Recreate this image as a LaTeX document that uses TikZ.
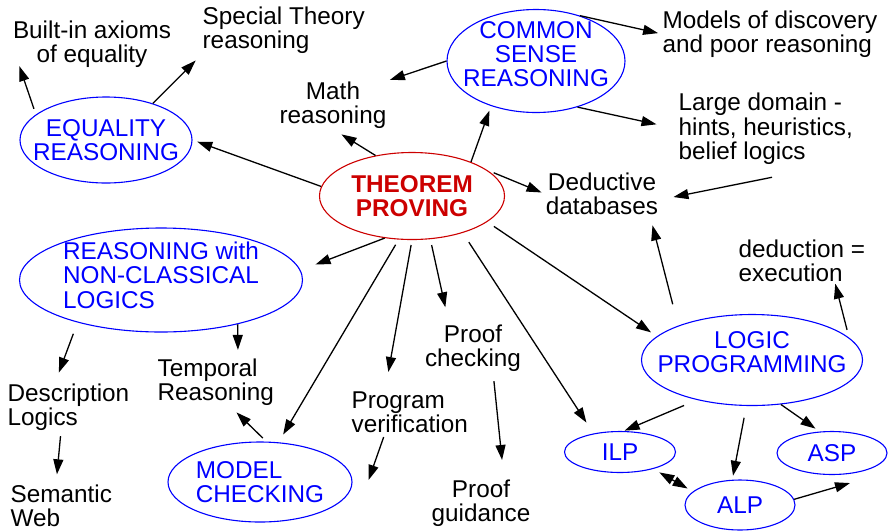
\documentclass[tikz,border=0pt]{standalone}
\usepackage{fontspec}
\setmainfont{Liberation Sans}
\usetikzlibrary{shapes.geometric,arrows.meta}
\definecolor{tpred}{RGB}{204,0,0}

\begin{document}
\begin{tikzpicture}[x=1pt, y=-1pt, line width=1.3pt,
    >={Triangle[length=15pt,width=10pt]},
    font=\fontsize{24.3}{24.3}\selectfont,
    blob/.style={draw=blue, text=blue, ellipse, line width=1.1pt, inner xsep=-20pt, inner ysep=-10pt},
    txt/.style={inner sep=0pt, align=left, anchor=west},
    ctxt/.style={inner sep=0pt, align=center}]
      \useasboundingbox (0,0) rectangle (891,531);

      \node (Theorem) [blob, draw=tpred, text=tpred, font=\fontsize{24.3}{24.3}\selectfont\bfseries, minimum width=185pt, minimum height=87pt, align=center] at (412,196) {THEOREM\\PROVING};
      \node (Equality) [blob, minimum width=172pt, minimum height=86pt, align=center] at (106,140) {EQUALITY\\REASONING};
      \node (CommonSense) [blob, minimum width=178pt, minimum height=103pt, align=center, text depth=14pt] at (536,61) {COMMON\\SENSE\\REASONING};
      \node (NonClassical) [blob, minimum width=283pt, minimum height=104pt, align=left, text depth=10pt] at (161,280) {REASONING with\\NON-CLASSICAL\\LOGICS};
      \node (LogicProg) [blob, minimum width=221pt, minimum height=91pt, align=center, text depth=16pt] at (752,360) {LOGIC\\PROGRAMMING};
      \node (ModelCheck) [blob, minimum width=184pt, minimum height=80pt, align=left] at (260,482) {MODEL\\CHECKING};
      \node (ILP) [blob, minimum width=111pt, minimum height=41pt] at (620,452) {ILP};
      \node (ASP) [blob, minimum width=110pt, minimum height=43pt] at (832,453) {ASP};
      \node (ALP) [blob, minimum width=110pt, minimum height=50pt] at (740,505) {ALP};

      \node (BuiltIn) [ctxt] at (92,44) {Built-in axioms\\of equality};
      \node (SpecialTheory) [txt] at (202,30) {Special Theory\\reasoning};
      \node (MathReas) [ctxt] at (333,105) {Math\\reasoning};
      \node (Models) [txt] at (662,34) {Models of discovery\\and poor reasoning};
      \node (LargeDomain) [txt] at (678,129) {Large domain -\\hints, heuristics,\\belief logics};
      \node (Deductive) [ctxt] at (602,194) {Deductive\\databases};
      \node (DeductionExec) [txt] at (738,261) {deduction =\\execution};
      \node (ProofCheck) [ctxt] at (473,348) {Proof\\checking};
      \node (Temporal) [txt] at (157,382) {Temporal\\Reasoning};
      \node (DescLogics) [txt] at (7,407) {Description\\Logics};
      \node (ProgVerif) [txt] at (351,412) {Program\\verification};
      \node (SemWeb) [txt] at (10,506) {Semantic\\Web};
      \node (ProofGuide) [ctxt] at (481,503) {Proof\\guidance};

      \draw [->, shorten <=6pt] (Equality.160) -- ([xshift=7pt,yshift=2pt]BuiltIn.south west);
      \draw [->, shorten >=9pt] (Equality.38) -- (SpecialTheory.south west);
      \draw [->, shorten >=10pt] (Theorem.132) -- (MathReas.south);
      \draw [->, shorten >=5pt] (Theorem.174) -- (Equality.east);
      \draw [->, shorten >=3pt] (CommonSense.west) -- (MathReas.north east);
      \draw [->, shorten >=4pt] (CommonSense.46) -- (Models.west);
      \draw [->, shorten >=22pt] (CommonSense.-48) -- (LargeDomain.west);
      \draw [->, shorten >=5pt] (Theorem.30) -- (CommonSense.225);
      \draw [->, shorten <=7pt, shorten >=4pt] (Theorem.19) -- (Deductive.west);
      \draw [->, shorten >=15pt] ([xshift=94pt,yshift=-12pt]LargeDomain.south west) -- ([yshift=-6pt]Deductive.east);
      \draw [->, shorten <=22pt, shorten >=10pt] (LogicProg.155) -- ([xshift=48pt]Deductive.south);
      \draw [->, shorten <=8pt, shorten >=1pt] (LogicProg.13) -- ([xshift=97pt]DeductionExec.south west);
      \draw [->, shorten <=8pt, shorten >=7pt] (Theorem.-19) -- (LogicProg.166);
      \draw [->, shorten <=11pt, shorten >=13pt] (Theorem.-36) -- (ILP.145);
      \draw [->, shorten <=6pt, shorten >=17pt] (Theorem.-67) -- ([xshift=-24pt]ProofCheck.north);
      \draw [->, shorten <=5pt, shorten >=19pt] (Theorem.south) -- ([xshift=34pt]ProgVerif.north west);
      \draw [->, shorten <=6pt, shorten >=9pt] (Theorem.253) -- (ModelCheck.65);
      \draw [->, shorten >=16pt] (Theorem.237) -- (NonClassical.4);
      \draw [->, shorten <=12pt, shorten >=11pt] (NonClassical.207) -- ([xshift=48pt]DescLogics.north west);
      \draw [->, shorten >=8pt] (NonClassical.-30) -- ([xshift=81pt]Temporal.north west);
      \draw [->, shorten <=5pt, shorten >=10pt] ([xshift=54pt]DescLogics.south west) -- ([xshift=46pt]SemWeb.north west);
      \draw [->, shorten <=5pt, shorten >=9pt] (ModelCheck.81) -- ([xshift=73pt]Temporal.south west);
      \draw [->, shorten <=4pt] ([xshift=34pt]ProgVerif.south west) -- ([xshift=16pt,yshift=2pt]ModelCheck.east);
      \draw [->, shorten <=9pt, shorten >=19pt] ([xshift=20pt]ProofCheck.south) -- ([xshift=23pt]ProofGuide.north);
      \draw [->, shorten <=14pt, shorten >=1pt] (LogicProg.216) -- (ILP.80);
      \draw [->, shorten <=12pt, shorten >=4pt] (LogicProg.-97) -- (ALP.107);
      \draw [->, shorten >=5pt] (LogicProg.-57) -- (ASP.120);
      \draw [<->, shorten <=7pt, shorten >=6pt] (ILP.-27) -- (ALP.164);
      \draw [->] (ALP.6) -- ([xshift=18pt,yshift=-8pt]ASP.south);
    \end{tikzpicture}
\end{document}
